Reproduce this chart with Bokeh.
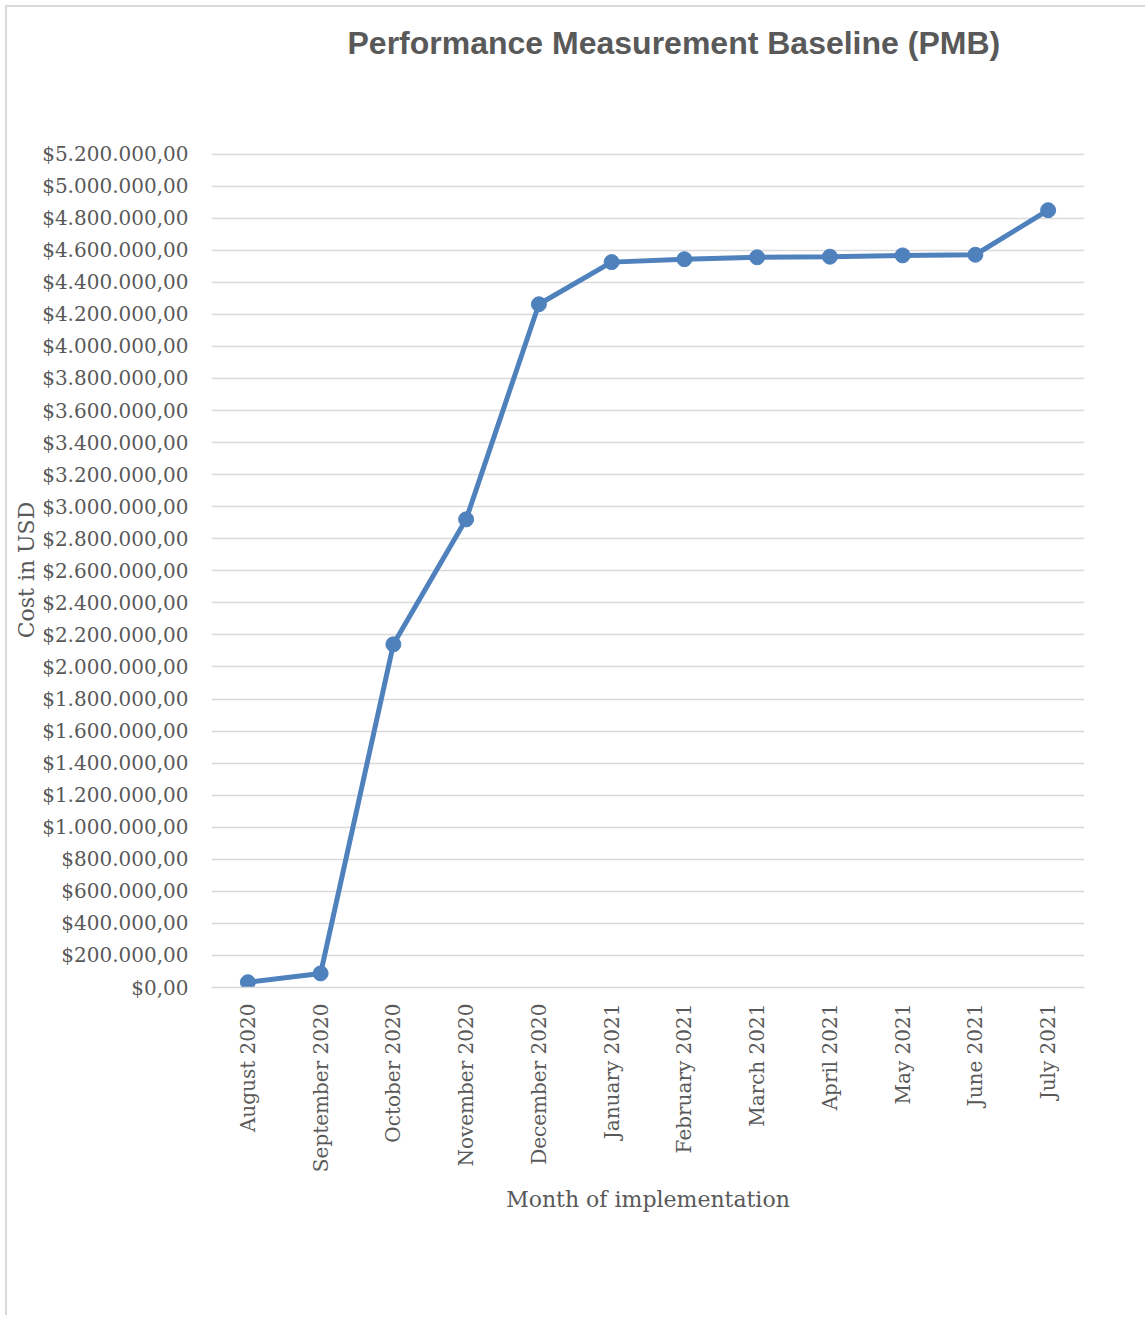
from bokeh.plotting import figure
from bokeh.models import FactorRange, Range1d, FixedTicker, Title
from bokeh.embed import file_html
from bokeh.resources import INLINE
import math

months = ["August 2020", "September 2020", "October 2020", "November 2020",
          "December 2020", "January 2021", "February 2021", "March 2021",
          "April 2021", "May 2021", "June 2021", "July 2021"]
cost = [33000, 88000, 2141000, 2921000, 4263000, 4526000, 4544000,
        4556000, 4560000, 4568000, 4572000, 4850000]

y_ticks = list(range(0, 5200001, 200000))


def euro_money(v):
    s = f"{v:,}".replace(",", ".")
    return "$" + s + ",00"


y_tick_labels = [euro_money(v) for v in y_ticks]

TEXT = "#595959"
SERIF = "DejaVu Serif"

p = figure(width=1140, height=1310, output_backend="svg", toolbar_location=None,
           x_range=FactorRange(*months, range_padding=0),
           y_range=Range1d(0, 5210000),
           min_border_left=204, min_border_right=63,
           min_border_top=145, min_border_bottom=330)

p.title = Title(text="Performance Measurement Baseline (PMB)", align="left",
                offset=136, standoff=0, text_font="Liberation Sans",
                text_font_size="32px", text_font_style="bold", text_color=TEXT)
# empty spacer between title and plot area
p.add_layout(Title(text=" ", text_font_size="10px", standoff=79), "above")

p.outline_line_color = None
p.background_fill_color = "white"
p.border_fill_color = "white"
p.styles = {"border-left": "2px solid #d9d9d9", "border-top": "2px solid #d9d9d9",
            "margin-left": "5px", "margin-top": "5px"}

p.xgrid.grid_line_color = None
p.ygrid.grid_line_color = "#d9d9d9"
p.ygrid.grid_line_width = 1.5

p.yaxis.ticker = FixedTicker(ticks=y_ticks)
p.yaxis.major_label_overrides = {t: l for t, l in zip(y_ticks, y_tick_labels)}
p.yaxis.axis_line_color = None
p.yaxis.major_tick_line_color = None
p.yaxis.minor_tick_line_color = None
p.yaxis.major_tick_out = 0
p.yaxis.major_tick_in = 0
p.yaxis.major_label_standoff = 23
p.yaxis.major_label_text_font = SERIF
p.yaxis.major_label_text_font_size = "20px"
p.yaxis.major_label_text_color = TEXT
p.yaxis.axis_label = "Cost in USD"
p.yaxis.axis_label_text_font = SERIF
p.yaxis.axis_label_text_font_size = "22px"
p.yaxis.axis_label_text_font_style = "normal"
p.yaxis.axis_label_text_color = TEXT
p.yaxis.axis_label_standoff = 0

p.xaxis.axis_line_color = "#d9d9d9"
p.xaxis.axis_line_width = 1.5
p.xaxis.major_tick_line_color = None
p.xaxis.major_tick_out = 0
p.xaxis.major_tick_in = 0
p.xaxis.major_label_orientation = math.pi / 2
p.xaxis.major_label_standoff = 16
p.xaxis.major_label_text_font = SERIF
p.xaxis.major_label_text_font_size = "20px"
p.xaxis.major_label_text_color = TEXT
p.xaxis.axis_label = "Month of implementation"
p.xaxis.axis_label_text_font = SERIF
p.xaxis.axis_label_text_font_size = "22px"
p.xaxis.axis_label_text_font_style = "normal"
p.xaxis.axis_label_text_color = TEXT
p.xaxis.axis_label_standoff = 12

p.line(x=months, y=cost, line_color="#4f81bd", line_width=5)
p.scatter(x=months, y=cost, size=15, fill_color="#4f81bd", line_color="#4f81bd")

open("out.html", "w").write(file_html(p, INLINE))
